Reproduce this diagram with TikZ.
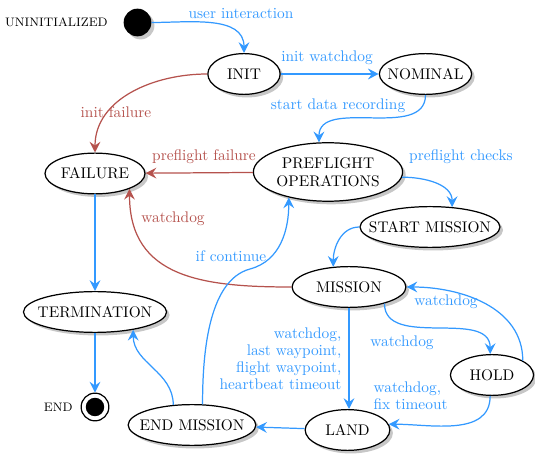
\documentclass[tikz,border=0pt]{standalone}
\usepackage{tikz}
\usetikzlibrary{arrows.meta,positioning,shapes.geometric,shadows}
\definecolor{okblue}{HTML}{3399FF}
\definecolor{failred}{HTML}{B5524D}
\tikzset{
  state/.style={ellipse, draw=black, fill=white, thick, inner xsep=-40pt, inner ysep=0pt,
                minimum height=26.5pt, align=center,
                drop shadow={fill=black!22, opacity=1, shadow xshift=2pt, shadow yshift=-2pt}},
  dot/.style={circle, fill=black, minimum size=18pt, inner sep=0pt,
              drop shadow={fill=black!22, opacity=1, shadow xshift=2pt, shadow yshift=-2pt}},
  final/.style={circle, draw=black, thick, fill=white, minimum size=18pt, inner sep=0pt,
                path picture={\fill[black] (path picture bounding box.center) circle (6pt);}},
  tag/.style={font=\footnotesize, inner sep=0pt},
  lbl/.style={text=okblue, font=\fontsize{10}{11}\selectfont, inner sep=0pt},
  flbl/.style={lbl, text=failred},
  go/.style={-{Stealth[length=7pt,width=7pt,inset=2.5pt]}, draw=okblue, thick},
  fail/.style={go, draw=failred}
}
\begin{document}
\begin{tikzpicture}[x=0.65pt, y=-0.65pt]
\useasboundingbox (0,0) rectangle (535,455);

\node[dot] (uninit) at (137.5,22.5) {};
\node[tag, left=10pt of uninit] (uninitlbl) {UNINITIALIZED};
\node[state, minimum width=47pt] (init) at (244,74) {INIT};
\node[state, minimum width=60pt] (nominal) at (425.5,74) {NOMINAL};
\node[state, minimum width=97pt, minimum height=38pt] (preflight) at (328,172) {PREFLIGHT\\OPERATIONS};
\node[state, minimum width=65pt] (failure) at (95,173.5) {FAILURE};
\node[state, minimum width=91pt] (startmission) at (430,227) {START MISSION};
\node[state, minimum width=74pt] (mission) at (349,287) {MISSION};
\node[state, minimum width=93pt] (termination) at (95,312) {TERMINATION};
\node[state, minimum width=83pt] (endmission) at (192,425) {END MISSION};
\node[state, minimum width=55pt] (land) at (347.5,430) {LAND};
\node[state, minimum width=54pt] (hold) at (492,375) {HOLD};
\node[final] (end) at (95,407) {};
\node[tag, left=5pt of end] (endlbl) {END};

\draw[go] (uninit.east) to[out=0, in=90] (init.north) node[lbl] at (241,14) {user interaction};
\draw[go] (init.east) -- (nominal.west) node[lbl] at (327,58) {init watchdog};
\draw[go] (nominal.south) to[out=-90, in=90] (preflight.107) node[lbl] at (338,106) {start data recording};
\draw[fail] (init.west) to[out=180, in=90] (failure.north) node[flbl] at (116,112) {init failure};
\draw[fail] (preflight) -- (failure) node[flbl] at (204,157) {preflight failure};
\draw[go] (preflight.-4) to[out=0, in=90] (startmission.42) node[lbl] at (461,157) {preflight checks};
\draw[go] (startmission.west) to[out=180, in=90] (mission.128);
\draw[fail] (mission.west) to[out=180, in=-90, looseness=1.2] (failure.-24) node[flbl] at (173,219) {watchdog};
\draw[go] (failure.south) -- (termination.north);
\draw[go] (termination.south) -- (end.north);
\draw[go] (endmission.133) to[out=90, in=-90] (termination.-25);
\draw[go] (endmission.63) to[out=90, in=195, looseness=0.8] (250,269) to[out=15, in=-90] (preflight.-147)
  node[lbl] at (231,256) {if continue};
\draw[go] (mission.south) -- (mission.south |- land.north)
  node[lbl, align=right, anchor=east] at (342,358.5) {watchdog,\\last waypoint,\\flight waypoint,\\heartbeat timeout};
\draw[go] (mission.-25) to[out=-90, in=90] (hold.95) node[lbl] at (402,343) {watchdog};
\draw[go] (hold.25) to[out=90, in=0] (mission.east) node[lbl] at (446,302) {watchdog};
\draw[go] (hold.-95) to[out=-90, in=0] (land.8)
  node[lbl, align=left, anchor=west] at (373,396) {watchdog,\\fix timeout};
\draw[go] (land) -- (endmission);
\end{tikzpicture}
\end{document}
